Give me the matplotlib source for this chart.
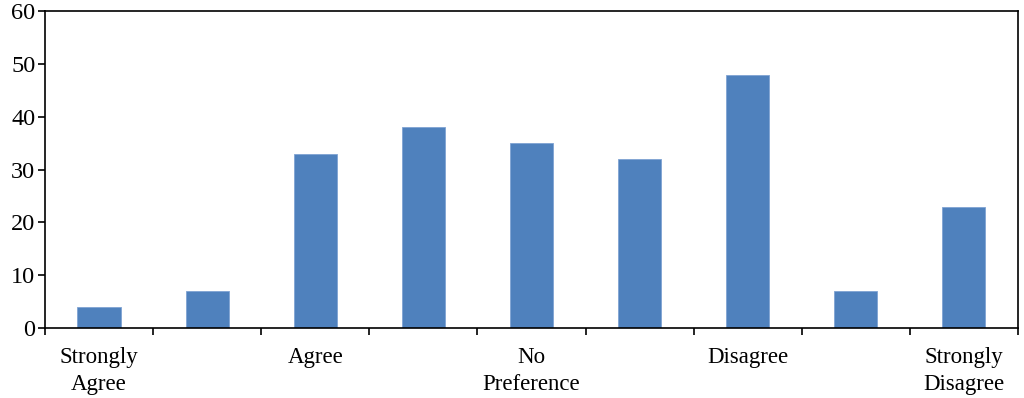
import numpy as np
import matplotlib.pyplot as plt

plt.rcParams['font.family'] = ['Liberation Serif', 'DejaVu Serif']

# valores
values = [4, 7, 33, 38, 35, 32, 48, 7, 23]
labels = ["Strongly\nAgree", "", "Agree", "", "No\nPreference", "",
          "Disagree", "", "Strongly\nDisagree"]
y_ticks = [0, 10, 20, 30, 40, 50, 60]

x = np.arange(len(values))

fig = plt.figure(figsize=(10.24, 3.98), dpi=100)
ax = fig.add_axes([0.044, 0.176, 0.950, 0.796])

ax.bar(x, values, width=0.4, color="#4F81BD", edgecolor="#7FA3D3", linewidth=0.6)

ax.set_xlim(-0.5, len(values) - 0.5)
ax.set_ylim(0, 60)
ax.set_yticks(y_ticks)

# ticks nas divisas entre categorias, rótulos nos centros
ax.set_xticks(np.arange(len(values) + 1) - 0.5)
ax.set_xticklabels([])
ax.set_xticks(x, minor=True)
ax.set_xticklabels(labels, minor=True, linespacing=1.32)
ax.tick_params(axis="x", which="minor", length=0, pad=14, labelsize=16.5)
ax.tick_params(axis="x", which="major", direction="out", length=5, width=1.2)
ax.tick_params(axis="y", direction="out", length=5, width=1.2, labelsize=17.5, pad=2)

for s in ax.spines.values():
    s.set_linewidth(1.2)

fig.savefig("out.png", dpi=100)
